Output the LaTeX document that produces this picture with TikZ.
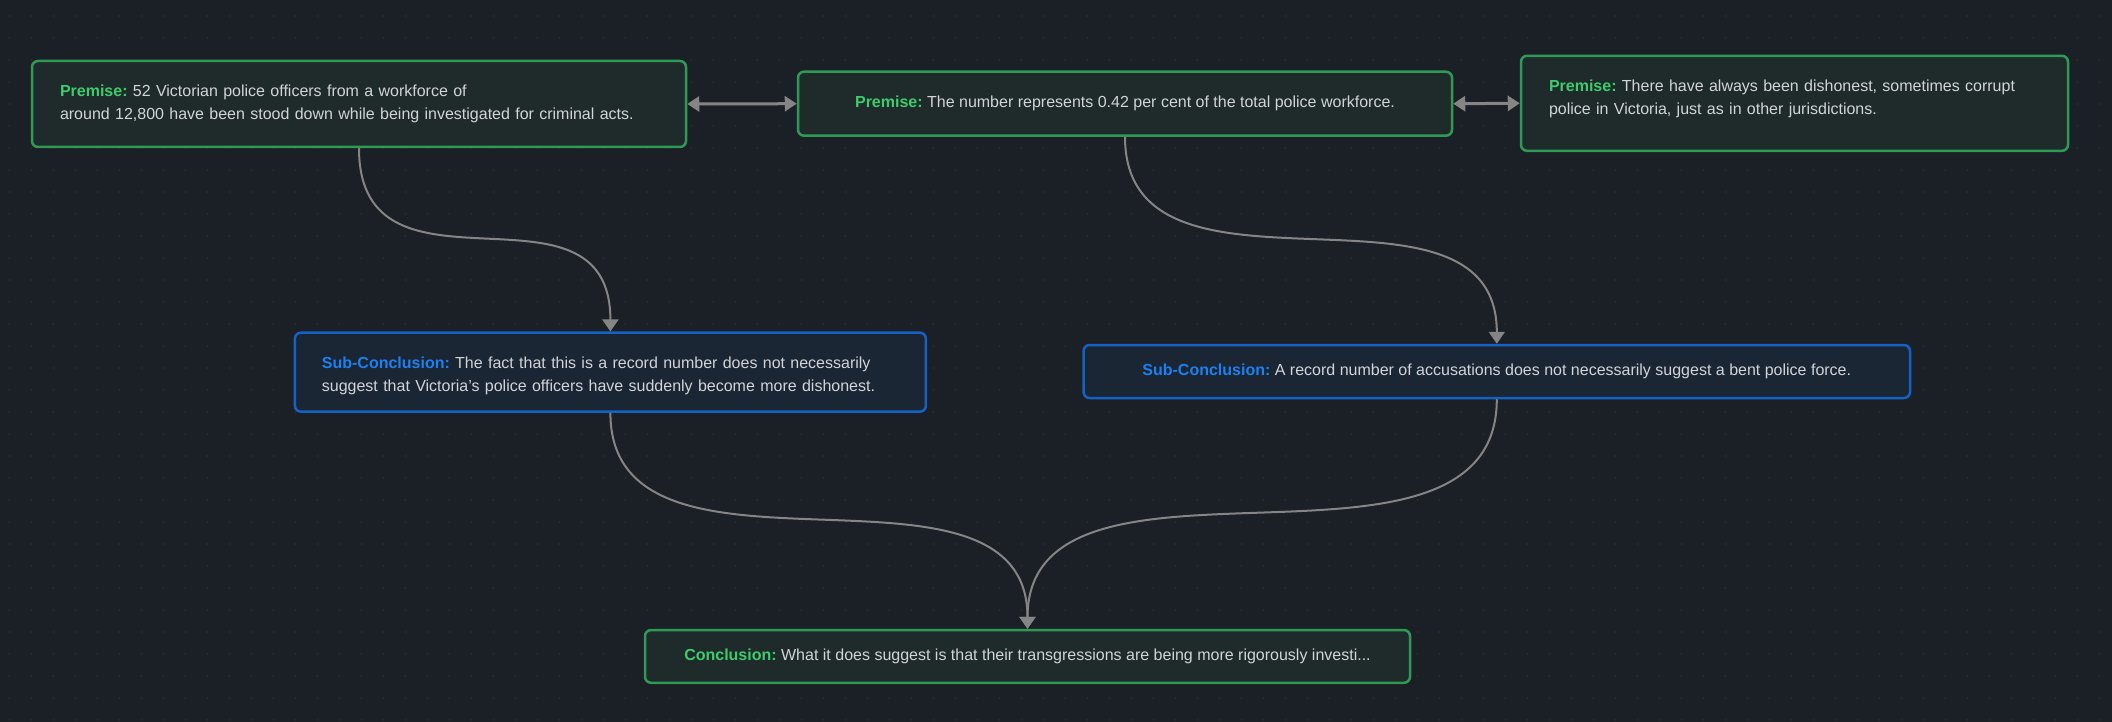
\documentclass[tikz,border=0pt]{standalone}
\usepackage{fontspec}
\setmainfont{Liberation Sans}
\usetikzlibrary{arrows.meta}
\definecolor{bg}{HTML}{1B1F26}
\definecolor{griddot}{HTML}{2B2F36}
\definecolor{gfill}{HTML}{1F2B2B}
\definecolor{gborder}{HTML}{2F9A55}
\definecolor{glabel}{HTML}{3DCB6C}
\definecolor{bfill}{HTML}{1B2635}
\definecolor{bborder}{HTML}{1662C4}
\definecolor{blabel}{HTML}{1E80F0}
\definecolor{txt}{HTML}{D2D4D6}
\definecolor{edge}{HTML}{858585}
\tikzset{
  box/.style={rounded corners=6pt, line width=2.5pt, inner sep=0pt,
    font=\fontsize{16}{23}\selectfont\frenchspacing, text=txt},
  gbox/.style={box, draw=gborder, fill=gfill},
  bbox/.style={box, draw=bborder, fill=bfill},
  link/.style={draw=edge, line width=2pt, -{Triangle[width=16pt,length=12pt]}},
  dlink/.style={draw=edge, line width=3pt,
    {Triangle[width=15pt,length=12pt]}-{Triangle[width=15pt,length=12pt]}},
}
\newcommand{\glab}[1]{\textcolor{glabel}{\bfseries #1}}
\newcommand{\blab}[1]{\textcolor{blabel}{\bfseries #1}}
\frenchspacing
\begin{document}
\begin{tikzpicture}[x=1pt,y=-1pt]
\useasboundingbox (0,0) rectangle (2112,722);
\fill[bg] (0,0) rectangle (2112,722);
\foreach \i in {0,...,95} {
  \foreach \j in {0,...,32} {
    \fill[griddot] (9.5+22*\i, 16+22*\j) circle (0.9pt);
  }
}
\node[gbox, minimum width=654pt, minimum height=86pt, text width=598pt, align=left] (p1) at (359,104)
  {\mbox{\glab{Premise:} 52 Victorian police officers from a workforce of}\\
   \mbox{around 12,800 have been stood down while being investigated for criminal acts.}};
\node[gbox, minimum width=654pt, minimum height=64pt, align=center] (p2) at (1125,103.7)
  {\glab{Premise:} The number represents 0.42 per cent of the total police workforce.};
\node[gbox, minimum width=547pt, minimum height=95pt, text width=491pt, align=left] (p3) at (1794.5,103.3)
  {\mbox{\glab{Premise:} There have always been dishonest, sometimes corrupt}\\
   \mbox{police in Victoria, just as in other jurisdictions.\rule[-12pt]{0pt}{1pt}}};
\node[bbox, minimum width=631pt, minimum height=79pt, text width=577pt, align=left] (s1) at (610.4,372.2)
  {\mbox{\rule{0pt}{18pt}\blab{Sub-Conclusion:} The fact that this is a record number does not necessarily}\\
   \mbox{suggest that Victoria's police officers have suddenly become more dishonest.}};
\node[bbox, minimum width=826.5pt, minimum height=53pt, align=center] (s2) at (1496.8,371.5)
  {\blab{Sub-Conclusion:} A record number of accusations does not necessarily suggest a bent police force.};
\node[gbox, minimum width=765pt, minimum height=52.7pt, align=center] (c) at (1027.5,656.4)
  {\glab{Conclusion:} What it does suggest is that their transgressions are being more rigorously investi...};
\draw[dlink] (p1.east) -- (p2.west);
\draw[dlink] (p2.east) -- (p3.west);
\draw[link] (p1.south) .. controls (359,314) and (610.4,166) .. (s1.north);
\draw[link] (p2.south) .. controls (1125,324) and (1496.8,157) .. (s2.north);
\draw[link] (s1.south) .. controls (610.4,608) and (1027.5,434) .. (c.north);
\draw[link] (s2.south) .. controls (1496.8,607) and (1027.5,421) .. (c.north);
\end{tikzpicture}
\end{document}
